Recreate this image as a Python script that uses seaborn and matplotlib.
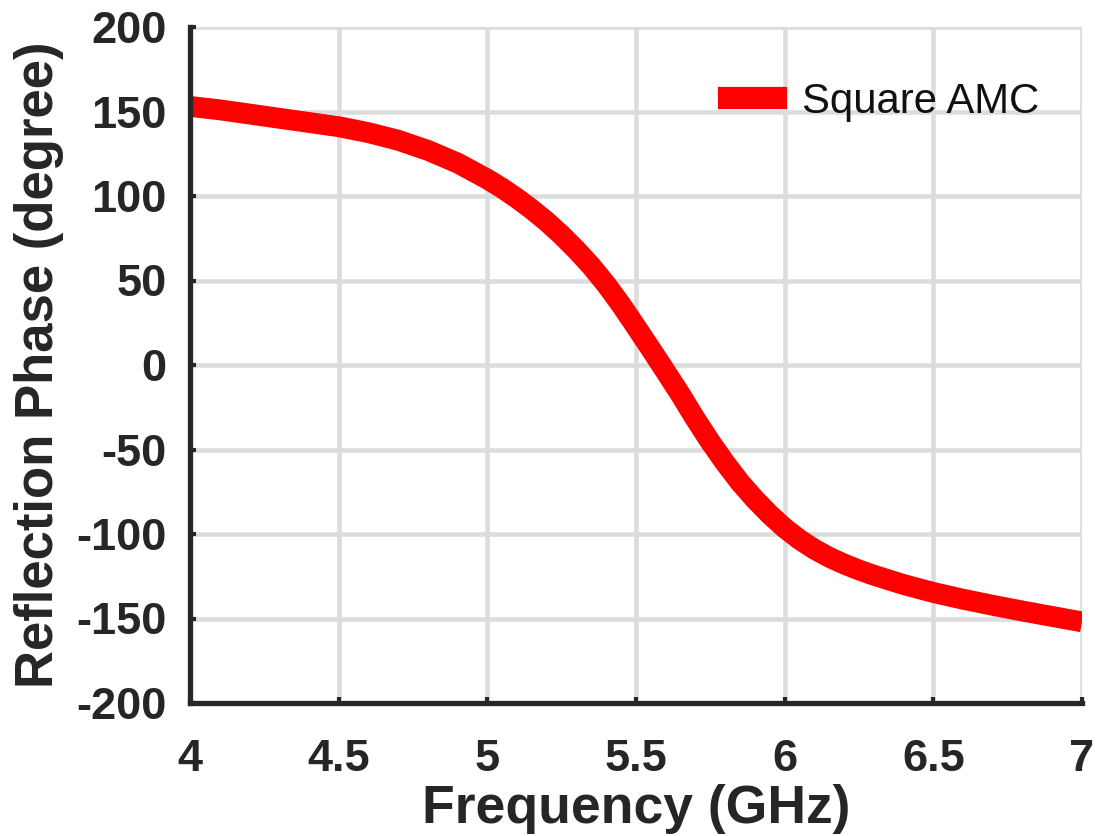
import matplotlib
matplotlib.use("Agg")
import matplotlib.pyplot as plt
import seaborn as sns
import pandas as pd

# Reflection phase of the square AMC unit cell
freq_ghz = [4.0, 4.1, 4.2, 4.3, 4.4, 4.5, 4.6, 4.7, 4.8, 4.9,
            5.0, 5.05, 5.1, 5.15, 5.2, 5.25, 5.3, 5.35, 5.4, 5.45,
            5.5, 5.55, 5.6, 5.65, 5.7, 5.75, 5.8, 5.85, 5.9, 5.95,
            6.0, 6.05, 6.1, 6.15, 6.2, 6.25, 6.3, 6.4, 6.5, 6.6,
            6.7, 6.8, 6.9, 7.0]
phase_deg = [153, 151, 148.5, 146, 143.5, 141, 137.5, 133, 127, 119.5,
             110, 104.6, 98.6, 92, 84.8, 76.8, 68, 58.4, 47.6, 35.6,
             22.6, 9.4, -4, -17.6, -32, -45.5, -58, -69.5, -79.5, -88.5,
             -96.5, -103.3, -109, -113.8, -117.8, -121.3, -124.4, -129.9, -134.6, -138.6,
             -142.2, -145.6, -148.8, -152]
series_name = "Square AMC"

x_ticks = [4, 4.5, 5, 5.5, 6, 6.5, 7]
x_tick_labels = ["4", "4.5", "5", "5.5", "6", "6.5", "7"]
y_ticks = [-200, -150, -100, -50, 0, 50, 100, 150, 200]

df = pd.DataFrame({"Frequency": freq_ghz, "Phase": phase_deg, "Design": series_name})

sns.set_theme(style="whitegrid")
plt.rcParams["font.family"] = ["Liberation Sans", "DejaVu Sans"]
plt.rcParams["axes.unicode_minus"] = False

ink = "#262626"
fig = plt.figure(figsize=(11.02, 8.36), dpi=100)
ax = fig.add_axes([190 / 1102, 1 - 703 / 836, 892 / 1102, 676 / 836])

sns.lineplot(data=df, x="Frequency", y="Phase", hue="Design",
             palette={series_name: "#ff0000"}, linewidth=15, ax=ax,
             legend=True, solid_capstyle="butt", solid_joinstyle="round")

ax.set_xlim(4, 7)
ax.set_ylim(-200, 200)
ax.set_xticks(x_ticks)
ax.set_xticklabels(x_tick_labels)
ax.set_yticks(y_ticks)

ax.set_facecolor("white")
ax.grid(True, color="#dcdcdc", linewidth=3.3)
ax.set_axisbelow(True)

for side in ["top", "right"]:
    ax.spines[side].set_visible(False)
for side in ["left", "bottom"]:
    ax.spines[side].set_visible(True)
    ax.spines[side].set_color(ink)
    ax.spines[side].set_linewidth(3.8)
    ax.spines[side].set_zorder(5)

ax.tick_params(axis="both", which="major", direction="in", length=4, width=3,
               color=ink, labelcolor=ink, labelsize=32.5, left=True, bottom=True)
ax.tick_params(axis="y", pad=17)
ax.tick_params(axis="x", pad=26)
for lab in ax.get_xticklabels() + ax.get_yticklabels():
    lab.set_fontweight("bold")

ax.set_xlabel("Frequency (GHz)", fontsize=38.5, fontweight="bold", color=ink, labelpad=3)
ax.set_ylabel("Reflection Phase (degree)", fontsize=38, fontweight="bold", color=ink, labelpad=9)

leg = ax.legend(loc="center left", bbox_to_anchor=((718 - 190) / 892, 1 - (102 - 27) / 676),
                frameon=False, fontsize=30.2, handlelength=1.65, handletextpad=0.35,
                borderpad=0, borderaxespad=0, title=None)
for h in leg.get_lines():
    h.set_linewidth(16)
    h.set_solid_capstyle("butt")
for t in leg.get_texts():
    t.set_color("#111111")

fig.savefig("out.png", dpi=100, facecolor="white")
